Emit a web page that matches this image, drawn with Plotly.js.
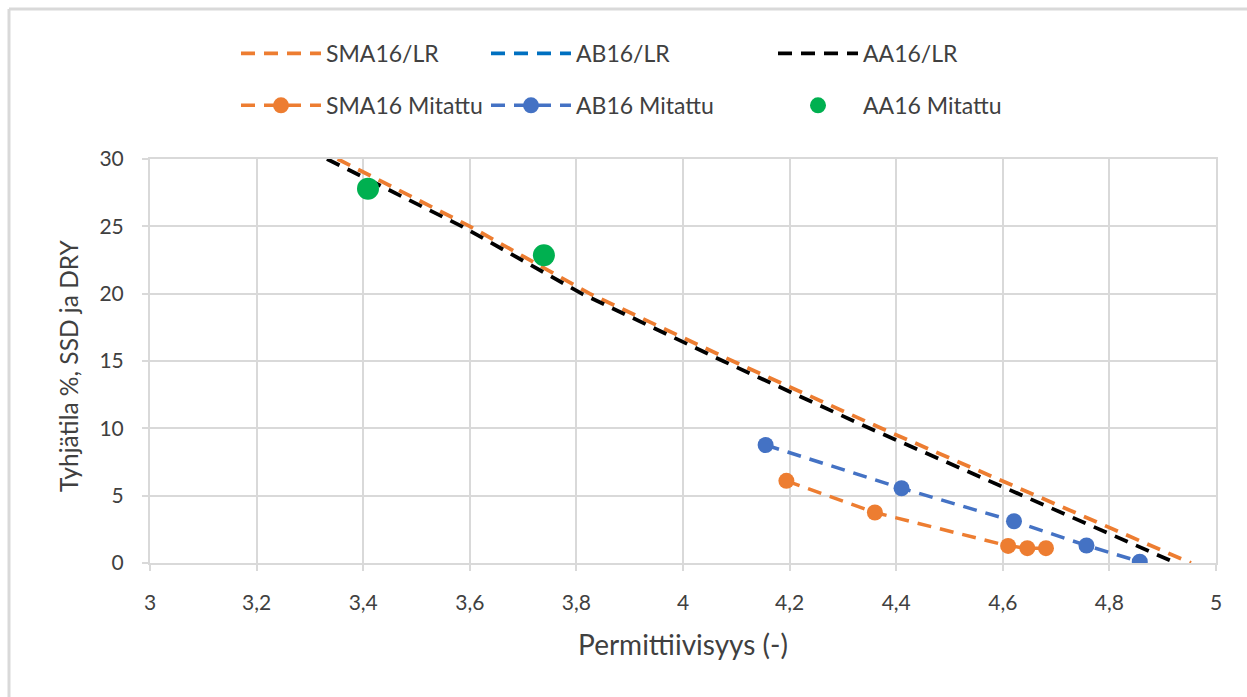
<!DOCTYPE html>
<html>
<head>
<meta charset="utf-8">
<script src="https://cdn.plot.ly/plotly-3.0.1.min.js"></script>
<style>html,body{margin:0;padding:0;background:#fff;}#chart{width:1247px;height:697px;}</style>
</head>
<body>
<div id="chart"></div>
<script>
// LR model curves (void % vs permittivity)
const smaLrX = [3.352, 3.600, 3.825, 4.093, 4.372, 4.662, 4.953];
const smaLrY = [30, 25, 20, 15, 10, 5, 0];
const abLrX = [null];
const abLrY = [null];
const aaLrX = [3.332, 3.585, 3.810, 4.075, 4.350, 4.638, 4.925];
const aaLrY = [30, 25, 20, 15, 10, 5, 0];

// measured values
const smaMeasX = [4.194, 4.360, 4.610, 4.646, 4.681];
const smaMeasY = [6.1, 3.75, 1.27, 1.1, 1.1];
const abMeasX = [4.155, 4.410, 4.621, 4.757, 4.857];
const abMeasY = [8.76, 5.55, 3.1, 1.3, 0.1];
const aaMeasX = [3.409, 3.739];
const aaMeasY = [27.8, 22.85];

const names = ["SMA16/LR", "AB16/LR", "AA16/LR", "SMA16 Mitattu", "AB16 Mitattu", "AA16 Mitattu"];
const xTitle = "Permittiivisyys (-)";
const yTitle = "Tyhjätila %, SSD ja DRY";

const ORANGE = "#ED7D31", BLUE_LR = "#0070C0", BLUE = "#4472C4", BLACK = "#000000", GREEN = "#00B050";
const DASH = "14px,9px";
const FONT = "Lato, 'Open Sans', sans-serif";
const TXT = "#404040";

const traces = [
  {x: smaLrX, y: smaLrY, name: names[0], mode: "lines", legend: "legend", legendgroup: "g1",
   line: {color: ORANGE, width: 3.8, dash: DASH}},
  {x: abLrX, y: abLrY, name: names[1], mode: "lines", legend: "legend2", legendgroup: "g2",
   line: {color: BLUE_LR, width: 3.8, dash: DASH}},
  {x: aaLrX, y: aaLrY, name: names[2], mode: "lines", legend: "legend3", legendgroup: "g3",
   line: {color: BLACK, width: 3.8, dash: DASH}},
  {x: smaMeasX, y: smaMeasY, name: names[3], mode: "lines+markers", legend: "legend", legendgroup: "g4",
   line: {color: ORANGE, width: 3.5, dash: DASH}, marker: {color: ORANGE, size: 16}},
  {x: abMeasX, y: abMeasY, name: names[4], mode: "lines+markers", legend: "legend2", legendgroup: "g5",
   line: {color: BLUE, width: 3.5, dash: DASH}, marker: {color: BLUE, size: 16}},
  {x: aaMeasX, y: aaMeasY, name: names[5], mode: "markers", legend: "legend3", legendgroup: "g6",
   marker: {color: GREEN, size: 22}}
];

function leg(px) {
  return {
    xref: "container", yref: "container", x: px / 1247, y: 1 - 32 / 697,
    xanchor: "left", yanchor: "top", orientation: "v",
    font: {family: FONT, size: 23, color: TXT}, bgcolor: "rgba(0,0,0,0)",
    itemwidth: 80, tracegroupgap: 19, traceorder: "grouped"
  };
}

const PW = 1066, PH = 404, L = 150, T = 159;
const layout = {
  width: 1247, height: 697,
  margin: {l: L, r: 31, t: T, b: 134, pad: 0, autoexpand: false},
  paper_bgcolor: "#ffffff", plot_bgcolor: "#ffffff",
  separators: ", ",
  font: {family: FONT, size: 20, color: TXT},
  showlegend: true,
  legend: leg(236), legend2: leg(486), legend3: leg(773),
  xaxis: {
    range: [3, 5], dtick: 0.2, tick0: 3, showgrid: true, gridcolor: "#d9d9d9", gridwidth: 2,
    showline: true, linecolor: "#d9d9d9", linewidth: 2, mirror: true, zeroline: false,
    ticks: "outside", ticklen: 6, tickcolor: "#d9d9d9", tickwidth: 2, ticklabelstandoff: 14,
    tickfont: {family: FONT, size: 21, color: TXT}, automargin: true,
    title: {text: xTitle, font: {family: FONT, size: 28, color: TXT}, standoff: 22}
  },
  yaxis: {
    range: [0, 30], dtick: 5, showgrid: true, gridcolor: "#d9d9d9", gridwidth: 2,
    showline: true, linecolor: "#d9d9d9", linewidth: 2, mirror: true, zeroline: false,
    ticks: "outside", ticklen: 6, tickcolor: "#d9d9d9", tickwidth: 2, ticklabelstandoff: 14,
    tickfont: {family: FONT, size: 21, color: TXT}, automargin: false
  },
  annotations: [
    {text: yTitle, xref: "paper", yref: "paper", x: (68 - L) / PW, y: (563 - 366) / PH,
     xanchor: "center", yanchor: "middle", textangle: -90, showarrow: false,
     font: {family: FONT, size: 24.5, color: TXT}}
  ],
  shapes: [
    {type: "line", xref: "paper", yref: "paper", layer: "above",
     x0: (9 - L) / PW, x1: (1260 - L) / PW, y0: 1 + (T - 9) / PH, y1: 1 + (T - 9) / PH,
     line: {color: "#d9d9d9", width: 3}},
    {type: "line", xref: "paper", yref: "paper", layer: "above",
     x0: (9 - L) / PW, x1: (9 - L) / PW, y0: 1 + (T - 9) / PH, y1: -(720 - T - PH) / PH,
     line: {color: "#d9d9d9", width: 3}}
  ]
};

Plotly.newPlot("chart", traces, layout, {displayModeBar: false, staticPlot: true});
</script>
</body>
</html>
